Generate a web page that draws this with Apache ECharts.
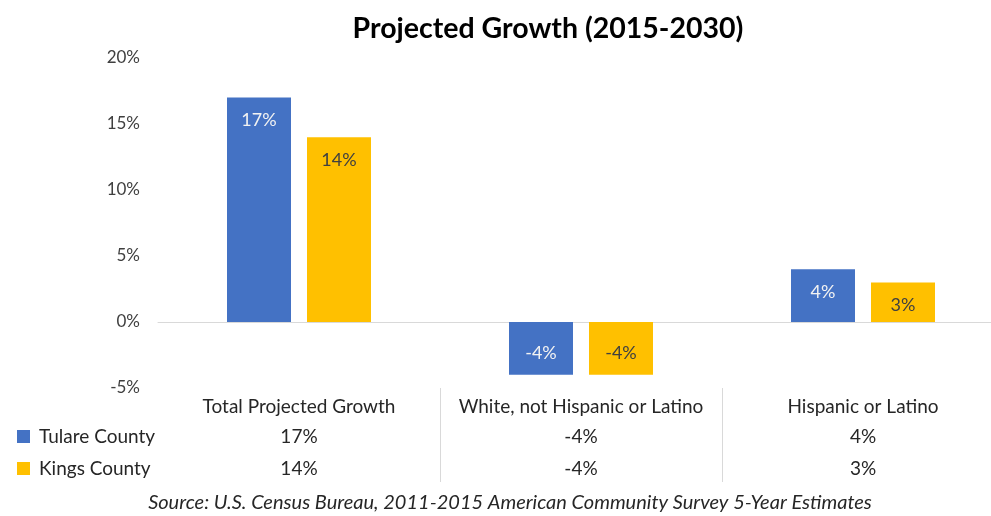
<!DOCTYPE html>
<html>
<head>
<meta charset="utf-8">
<script src="https://cdn.jsdelivr.net/npm/echarts@6/dist/echarts.min.js"></script>
<style>
  html, body { margin: 0; padding: 0; background: #ffffff; overflow: hidden; }
  /* the plot area runs past the right edge of the window, so the canvas is wider */
  #chart { width: 1010px; height: 516px; }
</style>
</head>
<body>
<div id="chart"></div>
<script>
// Projected growth 2015-2030, percent change by group
const categories = ['Total Projected Growth', 'White, not Hispanic or Latino', 'Hispanic or Latino'];
const seriesNames = ['Tulare County', 'Kings County'];
const tulareValues = [17, -4, 4];
const kingsValues = [14, -4, 3];
const yTicks = { min: -5, max: 20, step: 5 };

const FONT = 'Lato, "Open Sans", sans-serif';
const BLUE = '#4472C4';
const GOLD = '#FFC000';

const pct = v => Math.round(v) + '%';

// Value labels sit just inside the bar's far end (below zero for negatives)
function barData(values, labelColor) {
  return values.map(v => ({
    value: v,
    label: {
      show: true,
      position: v >= 0 ? 'insideTop' : 'insideBottom',
      distance: v >= 0 ? 14 : 13,
      color: labelColor,
      fontFamily: FONT,
      fontSize: 18,
      formatter: p => pct(p.value)
    }
  }));
}

// Table rows under the plot are extra category axes sharing the grid
function tableAxis(data, offset, withDividers) {
  return {
    type: 'category',
    position: 'bottom',
    offset: offset,
    data: data,
    axisLine: { show: false },
    axisTick: withDividers
      ? { show: true, length: 94, inside: false, interval: i => i > 0, lineStyle: { color: '#d9d9d9', width: 1 } }
      : { show: false },
    axisLabel: { color: '#262626', fontFamily: FONT, fontSize: 19, margin: 9, interval: 0 }
  };
}

const chart = echarts.init(document.getElementById('chart'), null, { renderer: 'canvas' });

chart.setOption({
  animation: false,
  backgroundColor: '#ffffff',
  title: [
    {
      text: 'Projected Growth (2015-2030)',
      left: 543,
      textAlign: 'center',
      top: 9,
      textStyle: { fontFamily: FONT, fontWeight: 'bold', fontSize: 28.5, color: '#000000' }
    },
    {
      text: 'Source: U.S. Census Bureau, 2011-2015 American Community Survey 5-Year Estimates',
      left: 510,
      textAlign: 'center',
      top: 493,
      padding: 0,
      textStyle: { fontFamily: FONT, fontStyle: 'italic', fontWeight: 'normal', fontSize: 20, color: '#262626' }
    }
  ],
  legend: {
    orient: 'vertical',
    left: 12,
    top: 422,
    itemGap: 13,
    itemWidth: 13,
    itemHeight: 13,
    icon: 'rect',
    data: seriesNames,
    textStyle: { fontFamily: FONT, fontSize: 19, color: '#262626', padding: [0, 0, 0, 4] }
  },
  grid: { left: 158, top: 58, width: 846, height: 330, containLabel: false },
  xAxis: [
    {
      type: 'category',
      data: categories,
      axisLine: { show: true, onZero: true, lineStyle: { color: '#d9d9d9', width: 1 } },
      axisTick: { show: false },
      axisLabel: { show: false },
      splitLine: { show: false }
    },
    tableAxis(categories, 0, true),
    tableAxis(tulareValues.map(pct), 30, false),
    tableAxis(kingsValues.map(pct), 62, false)
  ],
  yAxis: {
    type: 'value',
    min: yTicks.min,
    max: yTicks.max,
    interval: yTicks.step,
    axisLine: { show: false },
    axisTick: { show: false },
    splitLine: { show: false },
    axisLabel: { formatter: '{value}%', color: '#404040', fontFamily: FONT, fontSize: 17, margin: 18 }
  },
  series: [
    {
      name: seriesNames[0],
      type: 'bar',
      xAxisIndex: 0,
      data: barData(tulareValues, '#f2f2f2'),
      barWidth: 64,
      barGap: '25%',
      itemStyle: { color: BLUE }
    },
    {
      name: seriesNames[1],
      type: 'bar',
      xAxisIndex: 0,
      data: barData(kingsValues, '#404040'),
      barWidth: 64,
      barGap: '25%',
      itemStyle: { color: GOLD }
    }
  ]
});
</script>
</body>
</html>
